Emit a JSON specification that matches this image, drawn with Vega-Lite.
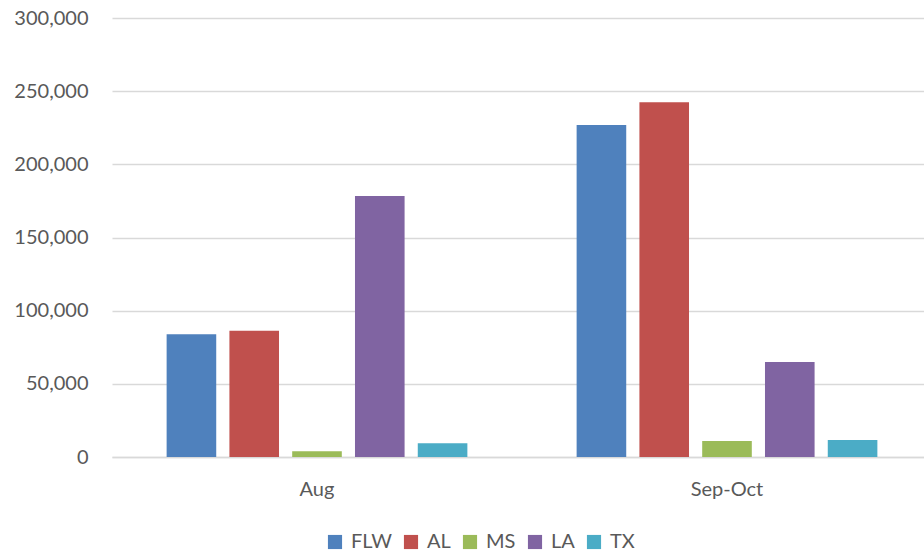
{
  "$schema": "https://vega.github.io/schema/vega-lite/v6.json",
  "autosize": {"type": "none"},
  "width": 812,
  "height": 439,
  "padding": {"left": 112, "top": 18, "right": 0, "bottom": 96},
  "background": "white",
  "config": {
    "view": {"stroke": null},
    "font": "Lato",
    "axis": {"labelFont": "Lato", "labelColor": "#595959", "labelFontSize": 20},
    "legend": {"labelFont": "Lato", "labelColor": "#595959", "labelFontSize": 20}
  },
  "data": {
    "values": [
      {"period": "Aug", "state": "FLW", "value": 83800},
      {"period": "Aug", "state": "AL", "value": 86300},
      {"period": "Aug", "state": "MS", "value": 3900},
      {"period": "Aug", "state": "LA", "value": 178300},
      {"period": "Aug", "state": "TX", "value": 9400},
      {"period": "Sep-Oct", "state": "FLW", "value": 226800},
      {"period": "Sep-Oct", "state": "AL", "value": 242500},
      {"period": "Sep-Oct", "state": "MS", "value": 10900},
      {"period": "Sep-Oct", "state": "LA", "value": 64900},
      {"period": "Sep-Oct", "state": "TX", "value": 11600}
    ]
  },
  "mark": {"type": "bar"},
  "encoding": {
    "x": {
      "field": "period", "type": "nominal", "title": null,
      "scale": {"range": [0, 820], "paddingInner": 0, "paddingOuter": 0},
      "axis": {"labelAngle": 0, "ticks": false, "domainColor": "#d9d9d9", "domainWidth": 1.5, "labelPadding": 22, "grid": false}
    },
    "xOffset": {
      "field": "state", "type": "nominal",
      "sort": ["FLW", "AL", "MS", "LA", "TX"],
      "scale": {"paddingInner": 0.21, "paddingOuter": 0.87}
    },
    "y": {
      "field": "value", "type": "quantitative", "title": null,
      "scale": {"domain": [0, 300000]},
      "axis": {"values": [0, 50000, 100000, 150000, 200000, 250000, 300000], "format": ",.0f", "domain": false, "ticks": false, "labelPadding": 24, "gridColor": "#d9d9d9", "gridWidth": 1.5}
    },
    "color": {
      "field": "state", "type": "nominal",
      "sort": ["FLW", "AL", "MS", "LA", "TX"],
      "scale": {"domain": ["FLW", "AL", "MS", "LA", "TX"], "range": ["#4f81bd", "#c0504d", "#9bbb59", "#8064a2", "#4bacc6"]},
      "legend": {"title": null, "orient": "none", "legendX": 213, "legendY": 514, "direction": "horizontal", "symbolType": "square", "symbolSize": 200, "symbolStrokeWidth": 0, "columnPadding": 9, "labelOffset": 6}
    }
  }
}
